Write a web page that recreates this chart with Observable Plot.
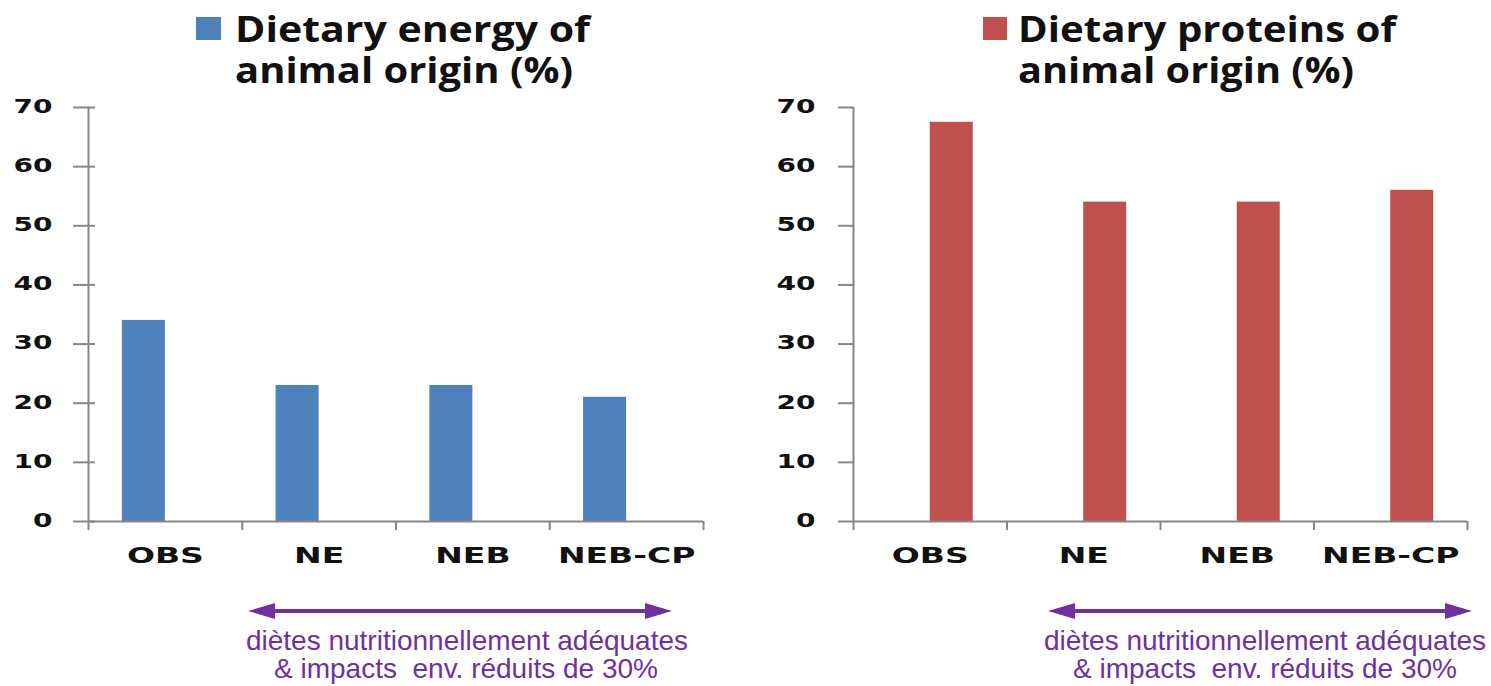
<!DOCTYPE html>
<html>
<head>
<meta charset="utf-8">
<script src="https://cdn.jsdelivr.net/npm/d3@7"></script>
<script src="https://cdn.jsdelivr.net/npm/@observablehq/plot@0.6"></script>
<style>
  html, body { margin: 0; padding: 0; background: #fff; }
  #page { position: relative; width: 1491px; height: 686px; overflow: hidden; background: #fff; }
  .panel { position: absolute; top: 95px; }
  #overlay { position: absolute; left: 0; top: 0; pointer-events: none; }
  .ttl { font-family: "Open Sans", sans-serif; font-weight: 700; font-size: 35px; fill: #111; }
  .note { font-family: "Liberation Sans", Arial, sans-serif; font-size: 28px; fill: #7030a0; white-space: pre; }
</style>
</head>
<body>
<div id="page">
  <div id="left" class="panel" style="left:0px"></div>
  <div id="right" class="panel" style="left:745px"></div>
  <svg id="overlay" width="1491" height="686">
    <!-- series keys -->
    <rect x="196" y="17" width="25" height="23" fill="#4f81bd"></rect>
    <text class="ttl" x="235" y="42" textLength="355" lengthAdjust="spacingAndGlyphs">Dietary energy of</text>
    <text class="ttl" x="235" y="83" textLength="338" lengthAdjust="spacingAndGlyphs">animal origin (%)</text>
    <rect x="983" y="17" width="24" height="23" fill="#c0504d"></rect>
    <text class="ttl" x="1018" y="42" textLength="378" lengthAdjust="spacingAndGlyphs">Dietary proteins of</text>
    <text class="ttl" x="1018" y="83" textLength="336" lengthAdjust="spacingAndGlyphs">animal origin (%)</text>

    <!-- bracket under the constrained diets -->
    <g fill="#7030a0" stroke="#7030a0">
      <line x1="270" y1="611" x2="650" y2="611" stroke-width="4"></line>
      <polygon points="248,611 275,603 275,619" stroke="none"></polygon>
      <polygon points="672,611 645,603 645,619" stroke="none"></polygon>
      <line x1="1070" y1="611" x2="1450" y2="611" stroke-width="4"></line>
      <polygon points="1048,611 1075,603 1075,619" stroke="none"></polygon>
      <polygon points="1472,611 1445,603 1445,619" stroke="none"></polygon>
    </g>
    <text class="note" x="467" y="650" text-anchor="middle">diètes nutritionnellement adéquates</text>
    <text class="note" x="466" y="678" text-anchor="middle">&amp; impacts  env. réduits de 30%</text>
    <text class="note" x="1265" y="650" text-anchor="middle">diètes nutritionnellement adéquates</text>
    <text class="note" x="1265" y="678" text-anchor="middle">&amp; impacts  env. réduits de 30%</text>
  </svg>
</div>
<script>
// Diet scenarios and shares of animal origin (%)
const categories = ["OBS", "NE", "NEB", "NEB-CP"];
const energyAnimal = [34, 23, 23, 21];
const proteinAnimal = [67.5, 54, 54, 56];
const yTicks = [0, 10, 20, 30, 40, 50, 60, 70];

const BLUE = "#4f81bd";
const RED = "#c0504d";
const AXIS = "#868686";
// each category slot: outer gap, then one bar slot per series
const GAP = 0.22;
const BAR = 0.28;

function panel({values, slot, color, width, marginLeft, marginRight, tickIn, labelGap}) {
  const rows = categories.map((cat, i) => ({cat, i, value: values[i]}));
  const bounds = d3.range(categories.length + 1);
  return Plot.plot({
    width,
    height: 500,
    marginTop: 12,
    marginBottom: 74,
    marginLeft,
    marginRight,
    style: {fontFamily: "DejaVu Sans", background: "transparent", overflow: "visible"},
    x: {domain: [0, categories.length], axis: null},
    y: {domain: [0, 70], axis: null},
    marks: [
      Plot.rect(rows, {
        x1: d => d.i + GAP + slot * BAR,
        x2: d => d.i + GAP + (slot + 1) * BAR,
        y1: 0,
        y2: "value",
        fill: color
      }),
      // category axis: baseline and ticks between categories
      Plot.ruleY([0], {x1: 0, x2: categories.length, stroke: AXIS, strokeWidth: 2}),
      Plot.ruleX(bounds, {x: d => d, y1: 0, y2: 0, insetBottom: -9, stroke: AXIS, strokeWidth: 2}),
      Plot.text(rows, {
        x: d => d.i + 0.5, y: 0, text: "cat", dy: 34,
        fontSize: 22, fontWeight: "bold", fill: "#111"
      }),
      // value axis
      Plot.ruleX([0], {y1: 0, y2: 70, stroke: AXIS, strokeWidth: 2}),
      Plot.ruleY(yTicks, {x1: 0, x2: 0, y: d => d, insetLeft: -15, insetRight: -tickIn, stroke: AXIS, strokeWidth: 2}),
      Plot.text(yTicks, {
        x: 0, y: d => d, text: d => String(d), dx: -labelGap, dy: -1, textAnchor: "end",
        fontSize: 20, fontWeight: "bold", fill: "#111"
      })
    ]
  });
}

// the wide, heavy axis lettering
function widen(svg) {
  const tickText = new Set(yTicks.map(String));
  svg.querySelectorAll("text").forEach(t => {
    const s = t.textContent;
    const factor = categories.includes(s) ? 1.5 : tickText.has(s) ? 1.4 : 1;
    if (factor === 1) return;
    const w = t.getComputedTextLength();
    t.setAttribute("textLength", (w * factor).toFixed(1));
    t.setAttribute("lengthAdjust", "spacingAndGlyphs");
  });
}

const left = panel({values: energyAnimal, slot: 0, color: BLUE, width: 745, marginLeft: 88, marginRight: 42, tickIn: 7, labelGap: 36});
const right = panel({values: proteinAnimal, slot: 1, color: RED, width: 746, marginLeft: 108, marginRight: 24, tickIn: 0, labelGap: 38});
document.getElementById("left").appendChild(left);
document.getElementById("right").appendChild(right);
widen(left);
widen(right);
</script>
</body>
</html>
